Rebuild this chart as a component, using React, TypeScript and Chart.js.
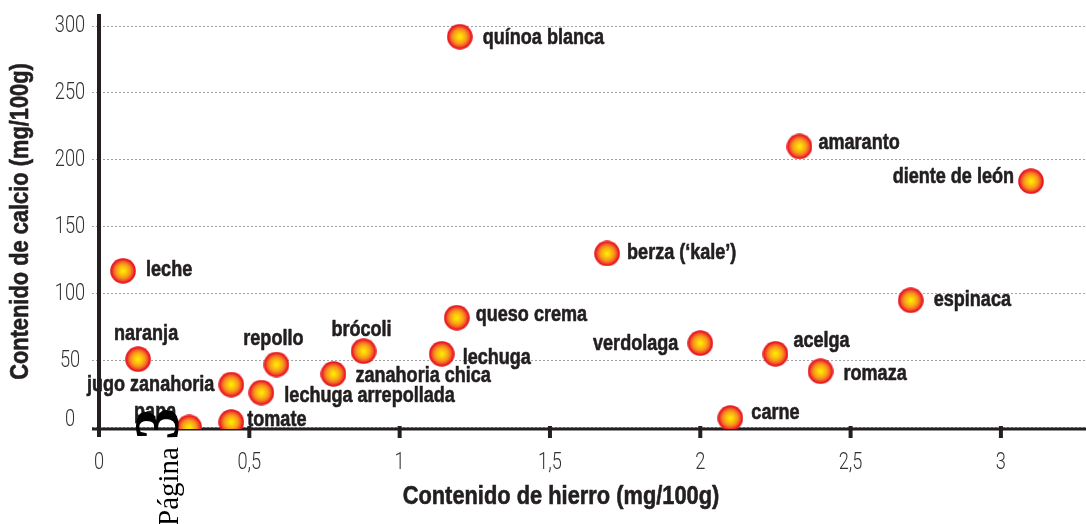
import React, { useEffect, useRef } from 'react';
import { Chart, registerables } from 'chart.js';

Chart.register(...registerables);

// ---- data ----
const foods = [
  'quínoa blanca', 'amaranto', 'diente de león', 'leche', 'berza (‘kale’)',
  'espinaca', 'queso crema', 'verdolaga', 'acelga', 'romaza', 'carne',
  'brócoli', 'lechuga', 'naranja', 'repollo', 'zanahoria chica',
  'jugo zanahoria', 'lechuga arrepollada', 'tomate', 'papa',
];
const iron = [1.2, 2.33, 3.1, 0.08, 1.69, 2.7, 1.19, 2.0, 2.25, 2.4, 2.1, 0.88, 1.14, 0.13, 0.59, 0.78, 0.44, 0.54, 0.44, 0.3];
const calcium = [292, 210, 184, 117, 130, 95, 82, 63, 55, 42, 7, 57, 55, 51, 47, 40, 32, 26, 4, 0];
const xTicks = [0, 0.5, 1, 1.5, 2, 2.5, 3];
const xTickLabels = ['0', '0,5', '1', '1,5', '2', '2,5', '3'];
const yTicks = [0, 50, 100, 150, 200, 250, 300];
const yTickLabels = ['0', '50', '100', '150', '200', '250', '300'];
const xTitle = 'Contenido de hierro (mg/100g)';
const yTitle = 'Contenido de calcio (mg/100g)';
const pageWord = 'Página';
const pageNumber = '3';

// ---- label layout (align, dx, dy to baseline) ----
const labelLayout: [CanvasTextAlign, number, number][] = [
  ['left', 23, 7],
  ['left', 19, 3],
  ['right', -17, 2],
  ['left', 23, 5],
  ['left', 20, 6],
  ['left', 23, 6],
  ['left', 19, 3],
  ['right', -22, 7],
  ['left', 18, -7],
  ['left', 23, 9],
  ['left', 21, 1],
  ['center', -2, -15],
  ['left', 21, 10],
  ['center', 8, -19],
  ['center', -3, -20],
  ['left', 22, 8],
  ['right', -17, 6],
  ['left', 23, 9],
  ['left', 16, 4],
  ['right', -13, -9],
];

const SANS = '"Liberation Sans", Arial, sans-serif';
const LIGHT = 'Roboto, "Liberation Sans", sans-serif';
const INK = '#231f20';

function drawText(
  ctx: CanvasRenderingContext2D, text: string, x: number, y: number,
  font: string, align: CanvasTextAlign, baseline: CanvasTextBaseline,
  sx: number, rot = 0, heavy = 0,
) {
  ctx.save();
  ctx.translate(x, y);
  if (rot) ctx.rotate(rot);
  ctx.scale(sx, 1);
  ctx.font = font;
  ctx.textAlign = align;
  ctx.textBaseline = baseline;
  ctx.fillText(text, 0, 0);
  if (heavy > 0) {
    ctx.lineWidth = heavy;
    ctx.lineJoin = 'round';
    ctx.strokeStyle = ctx.fillStyle as string;
    ctx.strokeText(text, 0, 0);
  }
  ctx.restore();
}

function makeMarker(): HTMLCanvasElement {
  const c = document.createElement('canvas');
  c.width = 26;
  c.height = 26;
  const ctx = c.getContext('2d')!;
  const g = ctx.createRadialGradient(13, 13, 0, 13, 13, 12.8);
  g.addColorStop(0, '#fff200');
  g.addColorStop(0.25, '#ffcc0a');
  g.addColorStop(0.55, '#f8961d');
  g.addColorStop(0.76, '#f25524');
  g.addColorStop(0.88, '#ec1c24');
  g.addColorStop(1, '#e0161e');
  ctx.fillStyle = g;
  ctx.beginPath();
  ctx.arc(13, 13, 12.8, 0, Math.PI * 2);
  ctx.fill();
  return c;
}

const decorPlugin = {
  id: 'decor',
  beforeDatasetsDraw(chart: any) {
    const { ctx, scales } = chart;
    const xs = scales.x;
    const ys = scales.y;
    const x0 = xs.getPixelForValue(0);
    const yb = chart.chartArea.bottom;
    ctx.save();
    ctx.strokeStyle = INK;
    // x axis
    ctx.lineWidth = 3;
    ctx.beginPath();
    ctx.moveTo(x0 - 7, yb);
    ctx.lineTo(chart.width, yb);
    ctx.stroke();
    // y axis
    ctx.lineWidth = 4;
    ctx.beginPath();
    ctx.moveTo(x0, chart.chartArea.top);
    ctx.lineTo(x0, yb + 8);
    ctx.stroke();
    // x tick marks
    ctx.lineWidth = 4;
    xTicks.forEach((v) => {
      if (v === 0) return;
      const px = xs.getPixelForValue(v);
      ctx.beginPath();
      ctx.moveTo(px, yb - 3);
      ctx.lineTo(px, yb + 9);
      ctx.stroke();
    });
    // tick labels
    ctx.fillStyle = '#333333';
    const tickFont = `300 24px ${LIGHT}`;
    xTicks.forEach((v, i) => {
      drawText(ctx, xTickLabels[i], xs.getPixelForValue(v), 463, tickFont, 'center', 'middle', 0.76);
    });
    yTicks.forEach((v, i) => {
      const py = ys.getPixelForValue(v) - (v === 0 ? 7 : 0);
      drawText(ctx, yTickLabels[i], 70, py, tickFont, 'center', 'middle', 0.76);
    });
    // titles
    ctx.fillStyle = INK;
    const titleFont = `bold 26px ${SANS}`;
    drawText(ctx, xTitle, 561, 497, titleFont, 'center', 'middle', 0.84, 0, 0.6);
    drawText(ctx, yTitle, 21, (chart.chartArea.top + yb) / 2, titleFont, 'center', 'middle', 0.84, -Math.PI / 2, 0.6);
    ctx.restore();
  },
  afterDatasetsDraw(chart: any) {
    const { ctx } = chart;
    const meta = chart.getDatasetMeta(0);
    ctx.save();
    ctx.fillStyle = INK;
    const labelFont = `bold 22px ${SANS}`;
    meta.data.forEach((el: any, i: number) => {
      const [align, dx, dy] = labelLayout[i];
      drawText(ctx, foods[i], el.x + dx, el.y + dy, labelFont, align, 'alphabetic', 0.82, 0, 0.6);
    });
    ctx.restore();
  },
};

export default function App() {
  const ref = useRef<HTMLCanvasElement>(null);
  useEffect(() => {
    if (!ref.current) return;
    const marker = makeMarker();
    const chart = new Chart(ref.current, {
      type: 'scatter',
      data: {
        labels: foods,
        datasets: [
          {
            data: iron.map((v, i) => ({ x: v, y: calcium[i] })),
            pointStyle: marker as any,
            pointRadius: 13,
            pointHoverRadius: 13,
          },
        ],
      },
      options: {
        animation: false,
        responsive: false,
        events: [],
        layout: { autoPadding: false, padding: { top: 14, left: 0, right: 0, bottom: 0 } },
        plugins: { legend: { display: false }, tooltip: { enabled: false } },
        scales: {
          x: {
            type: 'linear',
            min: 0,
            max: 3.283,
            ticks: { display: false, stepSize: 0.5, includeBounds: false },
            grid: { display: false },
            border: { display: false },
            afterFit: (s: any) => { s.height = 95; },
          },
          y: {
            type: 'linear',
            min: -1.2,
            max: 309,
            ticks: { display: false, stepSize: 50, includeBounds: false },
            grid: {
              color: '#a3a3a3',
              lineWidth: 1,
              drawTicks: true,
              tickLength: 7,
              tickColor: '#a3a3a3',
              tickBorderDash: [2, 2],
            },
            border: { display: false, dash: [2, 2] },
            afterFit: (s: any) => { s.width = 99; },
          },
        },
      },
      plugins: [decorPlugin],
    });
    return () => chart.destroy();
  }, []);

  return (
    <div style={{ position: 'fixed', left: 0, top: 0, width: 1086, height: 524, background: '#fff', overflow: 'hidden' }}>
      <canvas ref={ref} width={1086} height={524} style={{ width: 1086, height: 524, display: 'block' }} />
      <div
        style={{
          position: 'absolute',
          left: 125,
          top: 526,
          transformOrigin: '0 0',
          transform: 'rotate(-90deg)',
          whiteSpace: 'nowrap',
          fontFamily: '"Liberation Serif", "DejaVu Serif", serif',
          fontSize: 64,
          lineHeight: '64px',
          fontWeight: 'bold',
          color: '#000',
        }}
      >
        <span style={{ fontSize: 29, fontWeight: 'normal', lineHeight: 1 }}>{pageWord} </span>
        {pageNumber}
      </div>
    </div>
  );
}
